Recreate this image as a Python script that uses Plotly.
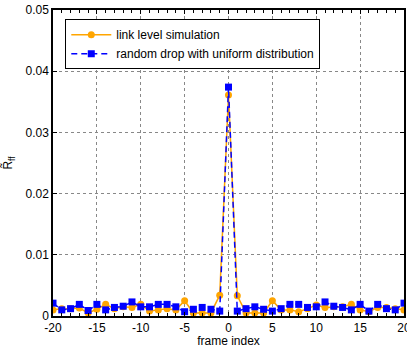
import plotly.graph_objects as go

frames = list(range(-20, 21))
link_level = [0.0010, 0.0012, 0.0012, 0.0013, 0.0005, 0.0011, 0.0019, 0.0012, 0.0015, 0.0014,
              0.0019, 0.0008, 0.0010, 0.0012, 0.0010, 0.0025, 0.0005, 0.0005, 0.0005, 0.0034,
              0.0361,
              0.0033, 0.0005, 0.0005, 0.0005, 0.0025, 0.0010, 0.0010, 0.0007, 0.0012, 0.0018,
              0.0014, 0.0015, 0.0015, 0.0019, 0.0010, 0.0007, 0.0014, 0.0014, 0.0012, 0.0010]
random_drop = [0.0021, 0.0010, 0.0012, 0.0019, 0.0009, 0.0019, 0.0010, 0.0014, 0.0016, 0.0023,
               0.0015, 0.0015, 0.0019, 0.0019, 0.0015, 0.0007, 0.0011, 0.0014, 0.0011, 0.0008,
               0.0374,
               0.0008, 0.0012, 0.0015, 0.0011, 0.0008, 0.0012, 0.0019, 0.0019, 0.0014, 0.0015,
               0.0023, 0.0016, 0.0014, 0.0010, 0.0019, 0.0008, 0.0019, 0.0012, 0.0010, 0.0021]
x_ticks = [-20, -15, -10, -5, 0, 5, 10, 15, 20]
x_tick_labels = ["-20", "-15", "-10", "-5", "0", "5", "10", "15", "20"]
y_ticks = [0, 0.01, 0.02, 0.03, 0.04, 0.05]
y_tick_labels = ["0", "0.01", "0.02", "0.03", "0.04", "0.05"]

font_family = "Liberation Sans, Arial, sans-serif"

fig = go.Figure()
fig.add_trace(go.Scatter(
    x=frames, y=link_level, name="link level simulation",
    mode="lines+markers",
    line=dict(color="#FFA500", width=1.5),
    marker=dict(symbol="circle", size=7, color="#FFA500"),
))
fig.add_trace(go.Scatter(
    x=frames, y=random_drop, name="random drop with uniform distribution",
    mode="lines+markers",
    line=dict(color="#0000FF", width=1.5, dash="6px,4px"),
    marker=dict(symbol="square", size=7, color="#0000FF"),
))

axis_common = dict(
    showline=True, linecolor="black", linewidth=1.5, mirror="allticks",
    ticks="inside", ticklen=4, tickcolor="black",
    showgrid=True, gridcolor="#888888", griddash="dot", gridwidth=1,
    zeroline=False, ticklabeloverflow="allow",
    tickfont=dict(size=12, color="black", family=font_family),
)

fig.update_xaxes(
    range=[-20, 20], tickvals=x_ticks, ticktext=x_tick_labels,
    title=dict(text="frame index", font=dict(size=12, color="black", family=font_family), standoff=2),
    minor=dict(ticks="inside", dtick=1, ticklen=3, tickcolor="black", showgrid=False),
    **axis_common,
)
fig.update_yaxes(
    range=[0, 0.05], tickvals=y_ticks, ticktext=y_tick_labels,
    title=dict(text="R̃<sub>ff</sub>", font=dict(size=12, color="black", family=font_family), standoff=12),
    **axis_common,
)

fig.update_layout(
    width=407, height=348,
    margin=dict(l=53, r=3, t=10, b=32, autoexpand=False),
    paper_bgcolor="white", plot_bgcolor="white",
    font=dict(family=font_family, size=12, color="black"),
    legend=dict(
        x=0.035, y=0.97, xanchor="left", yanchor="top",
        bgcolor="white", bordercolor="black", borderwidth=1,
        font=dict(size=12, family=font_family, color="black"),
        tracegroupgap=0, itemwidth=40,
    ),
    showlegend=True,
)

fig.write_html("out.html", config={"displayModeBar": False},
               post_script="document.body.style.margin='0';document.body.style.padding='0';")
